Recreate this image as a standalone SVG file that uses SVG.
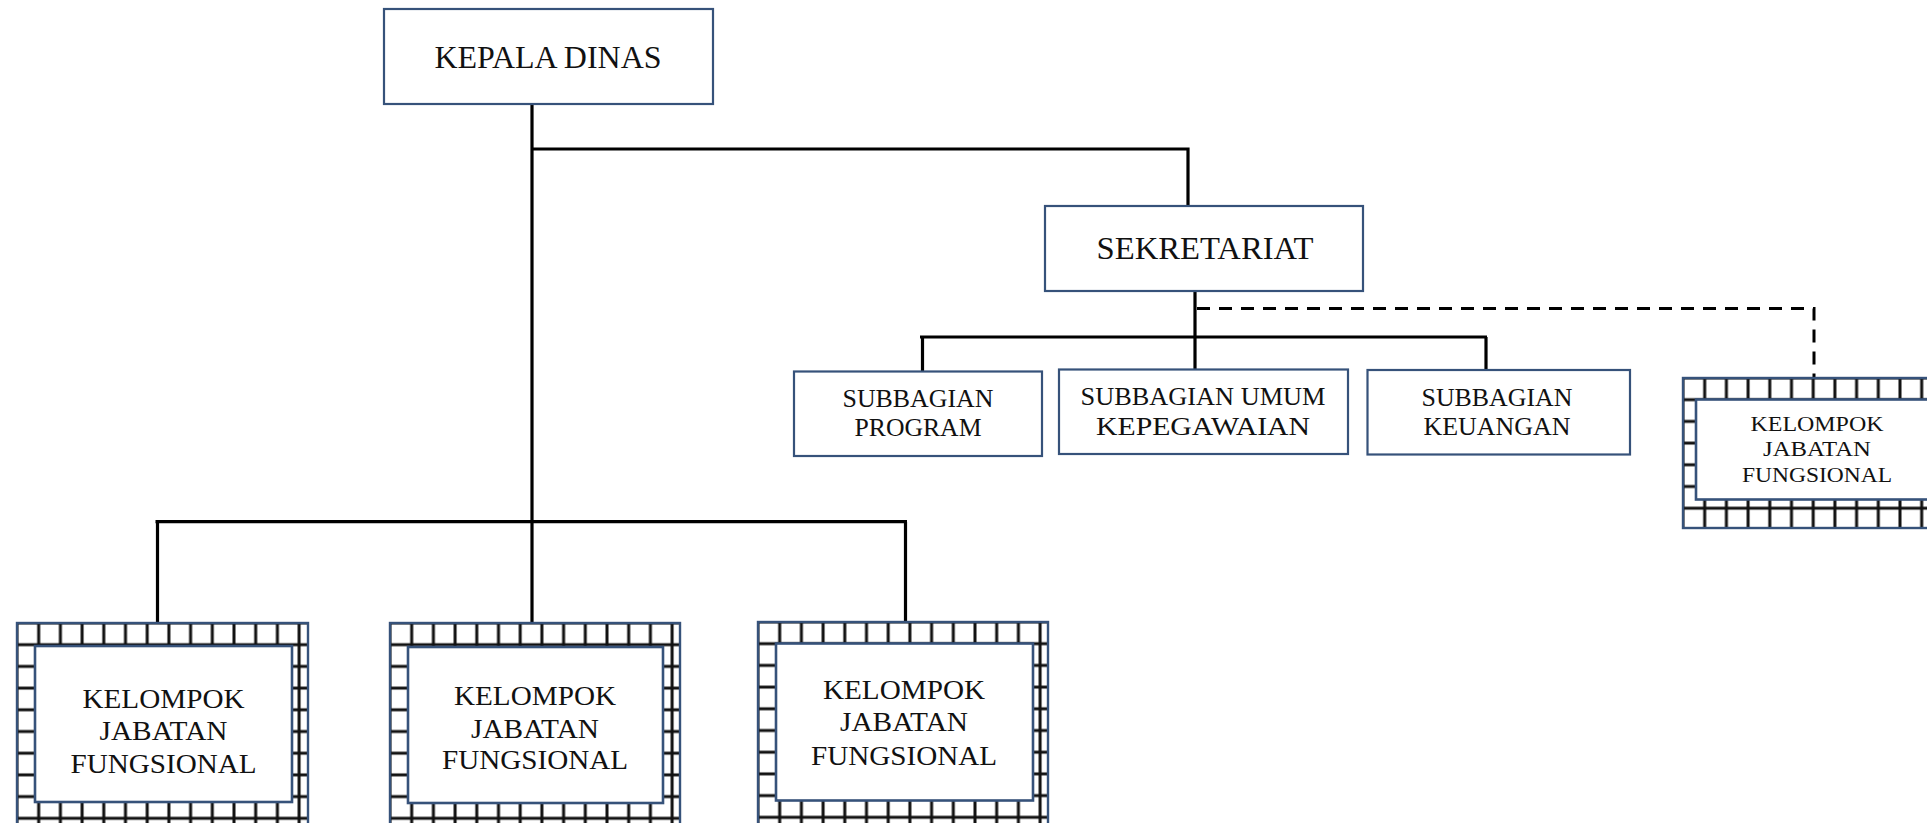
<svg xmlns="http://www.w3.org/2000/svg" width="1927" height="823" viewBox="0 0 1927 823">
<style>
.box{fill:#fff;stroke:#36527a;stroke-width:2.2}
.inner{fill:#fff;stroke:#36527a;stroke-width:2.6}
.outer{fill:none;stroke:#36527a;stroke-width:2.4}
.t{font-family:"Liberation Serif","Times New Roman",serif;fill:#111;text-anchor:middle}
.line{fill:none;stroke:#000;stroke-width:3.2}
.dash{fill:none;stroke:#000;stroke-width:3;stroke-dasharray:13 9}
</style>
<defs>
<pattern id="grid" patternUnits="userSpaceOnUse" width="21.7" height="21.7">
<rect width="21.7" height="21.7" fill="#fff"/>
<path d="M0 0V21.7M21.7 0V21.7M0 0H21.7M0 21.7H21.7" stroke="#111" stroke-width="3"/>
</pattern>
</defs>
<rect width="1927" height="823" fill="#fff"/>

<g id="connectors">
<path class="line" d="M532 104V623"/>
<path class="line" d="M532 149H1188V211"/>
<path class="line" d="M1195 289V370"/>
<path class="line" d="M920 337H1487"/>
<path class="line" d="M922.5 337V372"/>
<path class="line" d="M1486 337V370"/>
<path class="line" d="M155.5 521.7H907"/>
<path class="line" d="M157.5 521.7V624"/>
<path class="line" d="M905.5 521.7V622"/>
<path class="dash" d="M1197 308.5H1814V378"/>
</g>

<g id="kepala-dinas">
<rect class="box" x="384" y="9" width="329" height="95"/>
<text class="t" x="548" y="68" font-size="31" textLength="227" lengthAdjust="spacingAndGlyphs">KEPALA DINAS</text>
</g>

<g id="sekretariat">
<rect class="box" x="1045" y="206" width="318" height="85"/>
<text class="t" x="1205" y="259" font-size="31" textLength="217" lengthAdjust="spacingAndGlyphs">SEKRETARIAT</text>
</g>

<g id="subbagian-program">
<rect class="box" x="794" y="371.5" width="248" height="84.5"/>
<text class="t" x="918" y="407" font-size="25" textLength="151" lengthAdjust="spacingAndGlyphs">SUBBAGIAN</text>
<text class="t" x="918" y="436" font-size="25" textLength="127" lengthAdjust="spacingAndGlyphs">PROGRAM</text>
</g>

<g id="subbagian-umum">
<rect class="box" x="1059" y="369.5" width="289" height="84.5"/>
<text class="t" x="1203" y="405" font-size="25" textLength="245" lengthAdjust="spacingAndGlyphs">SUBBAGIAN UMUM</text>
<text class="t" x="1203" y="435" font-size="25" textLength="214" lengthAdjust="spacingAndGlyphs">KEPEGAWAIAN</text>
</g>

<g id="subbagian-keuangan">
<rect class="box" x="1367.5" y="370" width="262.5" height="84.5"/>
<text class="t" x="1497" y="406" font-size="25" textLength="151" lengthAdjust="spacingAndGlyphs">SUBBAGIAN</text>
<text class="t" x="1497" y="435" font-size="25" textLength="147" lengthAdjust="spacingAndGlyphs">KEUANGAN</text>
</g>

<g id="kjf-sekretariat">
<g transform="translate(1683,378)">
<rect x="0" y="0" width="260" height="150" fill="url(#grid)"/>
<rect class="outer" x="0" y="0" width="260" height="150"/>
<rect class="inner" x="13" y="21.5" width="260" height="100"/>
</g>
<text class="t" x="1817" y="431" font-size="20.5" textLength="133" lengthAdjust="spacingAndGlyphs">KELOMPOK</text>
<text class="t" x="1817" y="456" font-size="20.5" textLength="108" lengthAdjust="spacingAndGlyphs">JABATAN</text>
<text class="t" x="1817" y="482" font-size="20.5" textLength="150" lengthAdjust="spacingAndGlyphs">FUNGSIONAL</text>
</g>

<g id="kjf-1">
<g transform="translate(17,623)">
<rect x="0" y="0" width="291" height="220" fill="url(#grid)"/>
<rect class="outer" x="0" y="0" width="291" height="220"/>
<rect class="inner" x="18" y="23" width="257" height="156"/>
</g>
<text class="t" x="163.5" y="708" font-size="28" textLength="162" lengthAdjust="spacingAndGlyphs">KELOMPOK</text>
<text class="t" x="163.5" y="740" font-size="28" textLength="128" lengthAdjust="spacingAndGlyphs">JABATAN</text>
<text class="t" x="163.5" y="773" font-size="28" textLength="186" lengthAdjust="spacingAndGlyphs">FUNGSIONAL</text>
</g>

<g id="kjf-2">
<g transform="translate(390,623)">
<rect x="0" y="0" width="290" height="220" fill="url(#grid)"/>
<rect class="outer" x="0" y="0" width="290" height="220"/>
<rect class="inner" x="18" y="24" width="255" height="156"/>
</g>
<text class="t" x="535" y="705" font-size="28" textLength="162" lengthAdjust="spacingAndGlyphs">KELOMPOK</text>
<text class="t" x="535" y="738" font-size="28" textLength="128" lengthAdjust="spacingAndGlyphs">JABATAN</text>
<text class="t" x="535" y="769" font-size="28" textLength="186" lengthAdjust="spacingAndGlyphs">FUNGSIONAL</text>
</g>

<g id="kjf-3">
<g transform="translate(758,622)">
<rect x="0" y="0" width="290" height="220" fill="url(#grid)"/>
<rect class="outer" x="0" y="0" width="290" height="220"/>
<rect class="inner" x="18" y="21.5" width="257" height="157"/>
</g>
<text class="t" x="904" y="699" font-size="28" textLength="162" lengthAdjust="spacingAndGlyphs">KELOMPOK</text>
<text class="t" x="904" y="731" font-size="28" textLength="128" lengthAdjust="spacingAndGlyphs">JABATAN</text>
<text class="t" x="904" y="765" font-size="28" textLength="186" lengthAdjust="spacingAndGlyphs">FUNGSIONAL</text>
</g>
</svg>
